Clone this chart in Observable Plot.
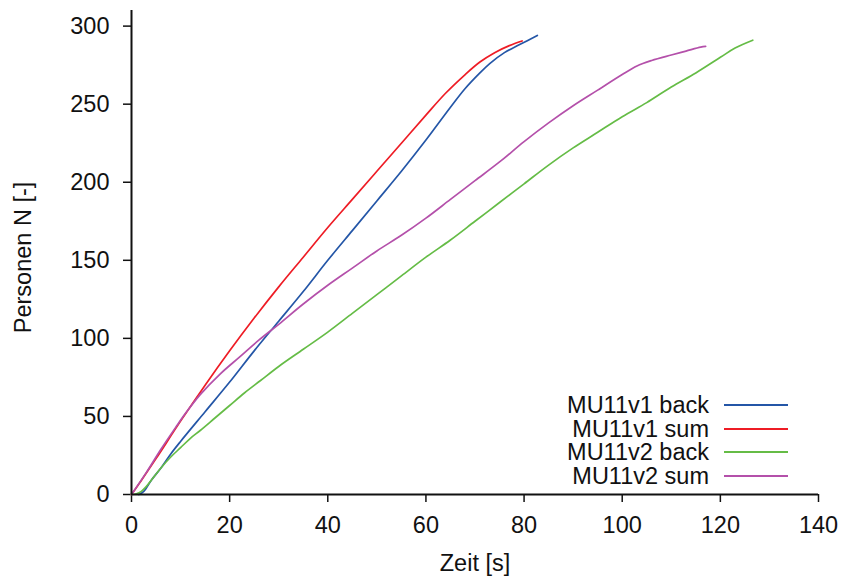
<!DOCTYPE html>
<html>
<head>
<meta charset="utf-8">
<script src="https://cdn.jsdelivr.net/npm/d3@7"></script>
<script src="https://cdn.jsdelivr.net/npm/@observablehq/plot@0.6"></script>
<style>
  body { margin: 0; background: #fff; }
  #wrap { position: relative; width: 846px; height: 579px; font-family: "Liberation Sans", Arial, sans-serif; }
  #legend { position: absolute; left: 0; top: 0; width: 846px; height: 579px; pointer-events: none; }
  .row { position: absolute; height: 24px; line-height: 24px; font-size: 23.5px; color: #111; }
  .row .lab { position: absolute; right: 0; white-space: nowrap; }
</style>
</head>
<body>
<div id="wrap"></div>
<script>
// ---- data ----
const seriesNames = ["MU11v1 back", "MU11v1 sum", "MU11v2 back", "MU11v2 sum"];
const seriesColors = ["#2456a7", "#ee1c25", "#65bc46", "#b450aa"];

const v1BackX = [1.5, 2.5, 4, 6, 8, 10, 15, 20, 25, 30, 35, 40, 45, 50, 55, 60, 65, 68, 71, 73, 76, 79, 82.7];
const v1BackY = [0, 2, 9, 17, 26, 34, 53, 72, 92, 111, 130, 150, 169, 188, 207, 227, 248, 260, 270, 276, 283, 288, 294];

const v1SumX = [0, 2, 5, 10, 15, 20, 25, 30, 35, 40, 45, 50, 55, 60, 64, 68, 71, 74, 77, 79.6];
const v1SumY = [0, 9, 23, 47, 70, 92, 113, 133, 152, 171, 189, 207, 225, 243, 257, 269, 277, 283, 287.5, 290.5];

const v2BackX = [0, 1, 2, 3, 4, 6, 8, 10, 12, 14, 17, 20, 23, 26.3, 30, 35, 40, 45, 50, 55, 60, 65, 70, 75, 80, 85, 90, 95, 100, 105, 110, 115, 120, 123, 126.6];
const v2BackY = [0, 0.5, 2, 5, 9, 17, 24, 30, 36, 41, 49, 57, 65, 73, 82, 93, 104, 116, 128, 140, 152, 163, 175, 187, 199, 211, 222, 232, 242, 251, 261, 270, 280, 286, 291];

const v2SumX = [0, 3, 6, 9, 11, 14, 18, 22, 26, 30, 35, 40, 45, 50, 55, 60, 65, 70, 75, 80, 85, 90, 95, 100, 103, 106, 110, 113, 116, 117];
const v2SumY = [0, 14, 29, 43, 52, 64, 77, 88, 99, 109, 122, 134, 145, 156, 166, 177, 189, 201, 213, 226, 238, 249, 259, 269, 274.5, 278, 281.5, 284, 286.5, 287];

const xTicks = [0, 20, 40, 60, 80, 100, 120, 140];
const yTicks = [0, 50, 100, 150, 200, 250, 300];
const xLabel = "Zeit [s]";
const yLabel = "Personen N [-]";

// ---- build table ----
const seriesXY = [[v1BackX, v1BackY], [v1SumX, v1SumY], [v2BackX, v2BackY], [v2SumX, v2SumY]];
const rows = [];
seriesXY.forEach(([xs, ys], i) => xs.forEach((x, j) => rows.push({series: seriesNames[i], x, y: ys[j]})));

const font = "'Liberation Sans', Arial, sans-serif";
const fs = 23.5;

const chart = Plot.plot({
  width: 846,
  height: 579,
  marginLeft: 131,
  marginRight: 28,
  marginTop: 10,
  marginBottom: 85,
  style: {fontFamily: font, fontSize: fs + "px", color: "#111", background: "#fff"},
  x: {domain: [0, 140], ticks: xTicks},
  y: {domain: [0, 310], ticks: yTicks},
  color: {domain: seriesNames, range: seriesColors},
  marks: [
    Plot.axisX({ticks: xTicks, tickSize: 8, tickPadding: 14, strokeWidth: 1.5, label: null, fontSize: fs}),
    Plot.axisY({ticks: yTicks, tickSize: 8, tickPadding: 14, strokeWidth: 1.5, label: null, fontSize: fs}),
    Plot.line(rows, {x: "x", y: "y", z: "series", stroke: "series", strokeWidth: 1.7, curve: "catmull-rom"}),
    Plot.ruleX([0], {stroke: "#111", strokeWidth: 2}),
    Plot.ruleY([0], {stroke: "#111", strokeWidth: 2}),
    Plot.text([xLabel], {frameAnchor: "bottom", dy: 69, lineAnchor: "middle", fontSize: fs, fill: "#111"}),
    Plot.text([yLabel], {frameAnchor: "left", dx: -108, dy: 5, rotate: -90, lineAnchor: "middle", textAnchor: "middle", fontSize: fs, fill: "#111"})
  ]
});

const wrap = document.getElementById("wrap");
wrap.appendChild(chart);

// ---- legend overlay ----
const leg = document.createElement("div");
leg.id = "legend";
const rowCenters = [405, 428.5, 452, 475.5];
seriesNames.forEach((name, i) => {
  const r = document.createElement("div");
  r.className = "row";
  r.style.left = "0px";
  r.style.width = "709px";
  r.style.top = (rowCenters[i] - 12) + "px";
  const lab = document.createElement("span");
  lab.className = "lab";
  lab.textContent = name;
  r.appendChild(lab);
  leg.appendChild(r);
  const sw = document.createElement("div");
  sw.className = "row";
  sw.style.left = "724px";
  sw.style.top = (rowCenters[i] - 1) + "px";
  sw.style.width = "64px";
  sw.style.height = "0px";
  sw.style.borderTop = "2px solid " + seriesColors[i];
  leg.appendChild(sw);
});
wrap.appendChild(leg);
</script>
</body>
</html>
